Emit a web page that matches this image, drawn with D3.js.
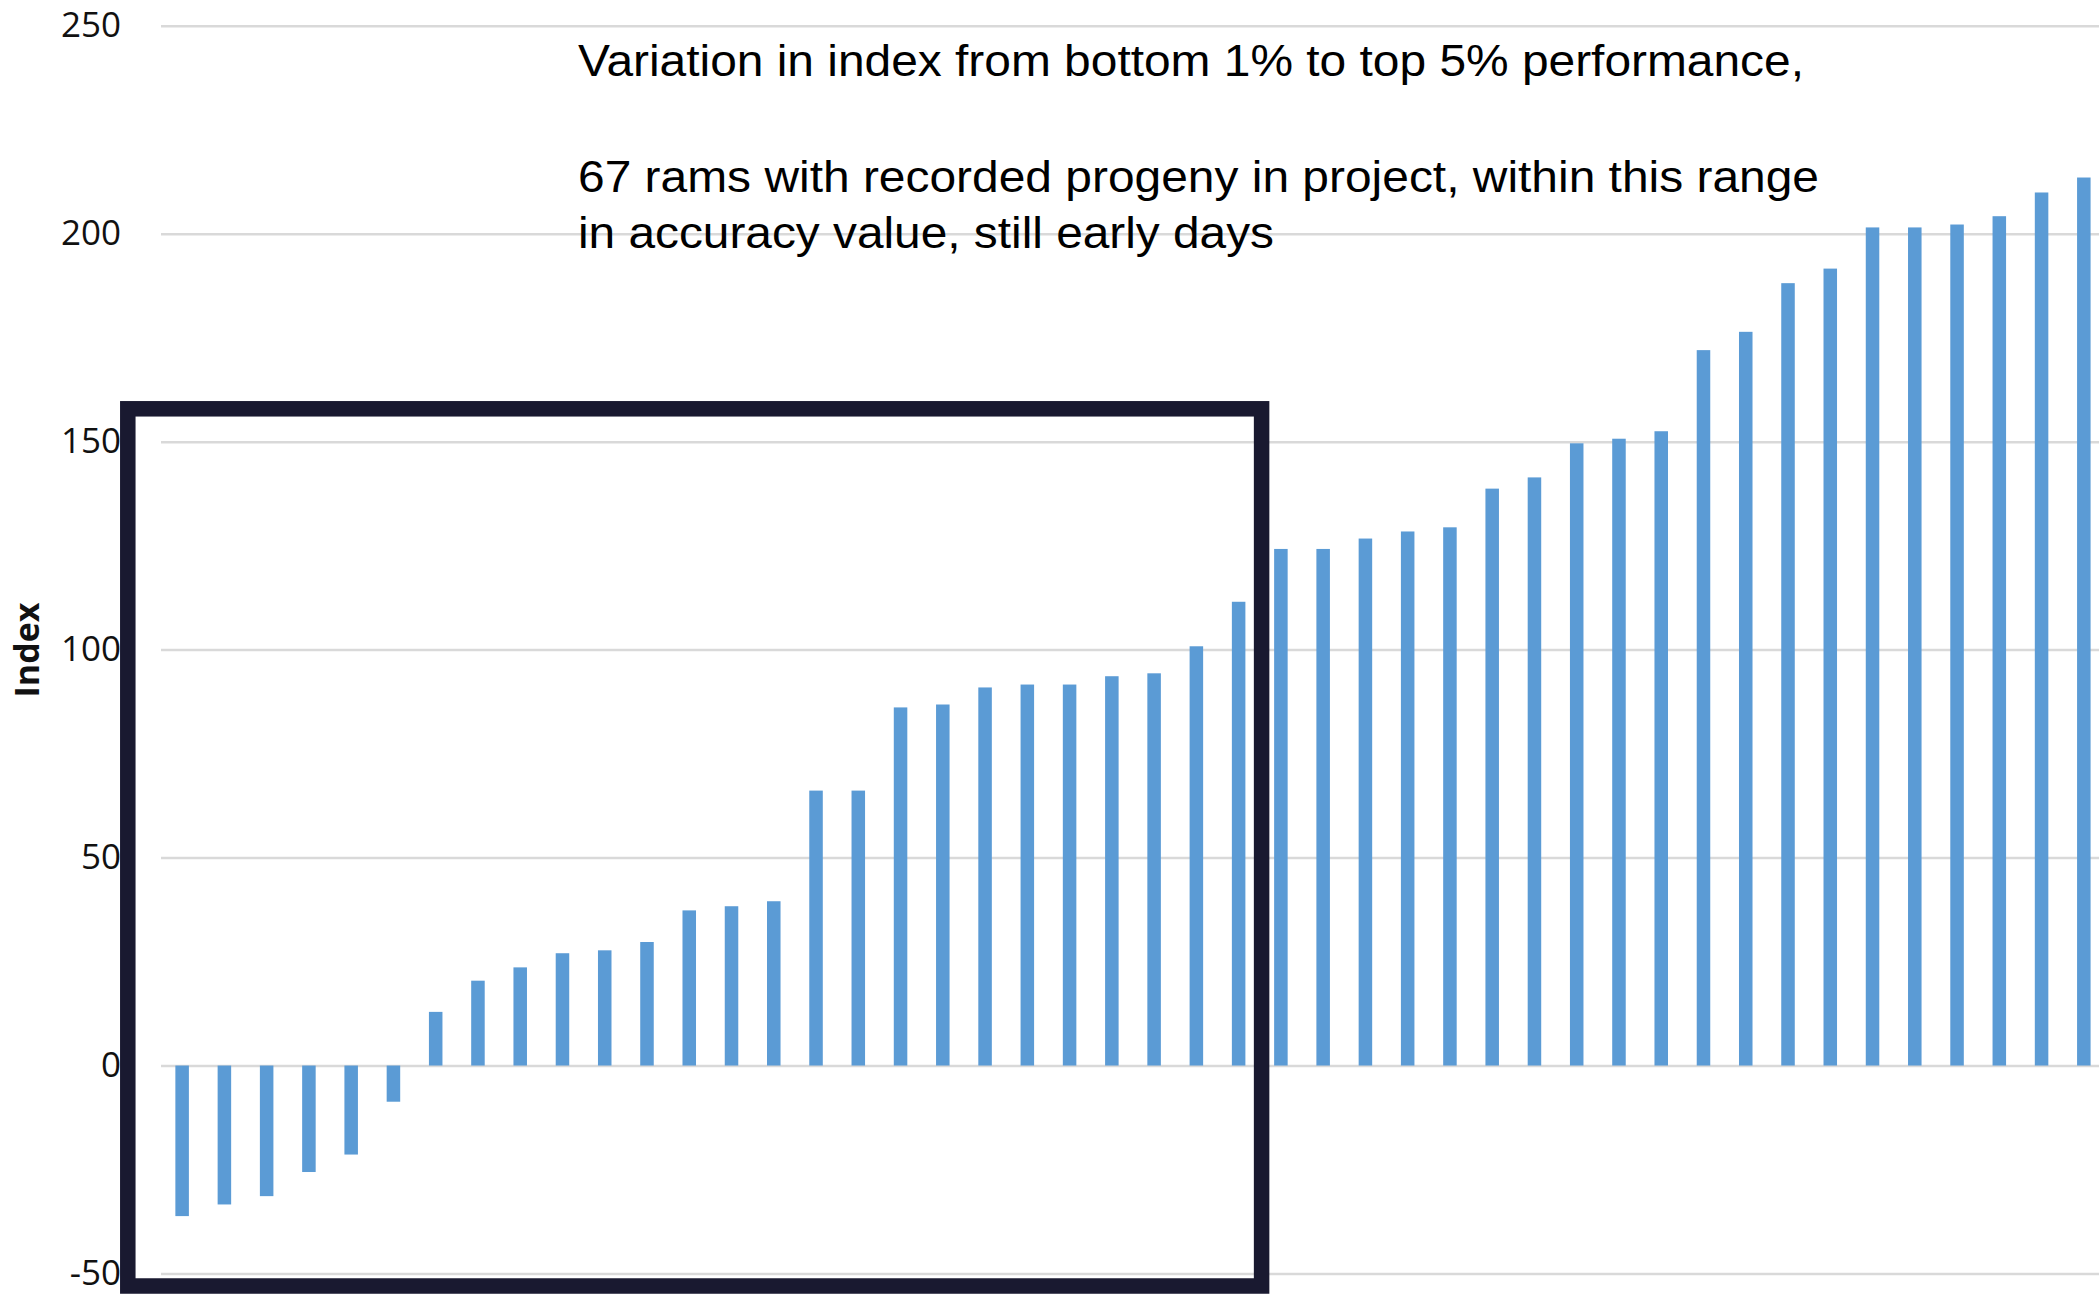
<!DOCTYPE html>
<html>
<head>
<meta charset="utf-8">
<script src="https://cdn.jsdelivr.net/npm/d3@7"></script>
<style>
  body { margin: 0; background: #fff; }
  svg { display: block; }
</style>
</head>
<body>
<div id="chart"></div>
<script>
// ram rank (sorted by index), only the part of the chart that is visible
const ramRank = [1, 2, 3, 4, 5, 6, 7, 8, 9, 10, 11, 12, 13, 14, 15, 16, 17, 18, 19, 20, 21, 22, 23,
    24, 25, 26, 27, 28, 29, 30, 31, 32, 33, 34, 35, 36, 37, 38, 39, 40, 41, 42, 43, 44, 45, 46];
const indexValue = [-36.2, -33.4, -31.4, -25.6, -21.4, -8.7, 12.9, 20.4, 23.6, 27.0, 27.7, 29.7,
    37.3, 38.3, 39.5, 66.1, 66.1, 86.1, 86.8, 90.9, 91.6, 91.6, 93.6, 94.3, 100.8, 111.5,
    124.2, 124.2, 126.7, 128.4, 129.4, 138.7, 141.4, 149.6, 150.7, 152.5, 172.0, 176.4,
    188.1, 191.6, 201.5, 201.5, 202.2, 204.2, 209.9, 213.5];
const yTicks = [-50, 0, 50, 100, 150, 200, 250];
const yTitle = "Index";
const noteLines = [
    "Variation in index from bottom 1% to top 5% performance,",
    "67 rams with recorded progeny in project, within this range",
    "in accuracy value, still early days"
];

let width = 2099;
let height = 1297;
let plotLeft = 161;
let step = 42.26;

let svg = d3.select("#chart")
    .append("svg")
    .attr("width", width)
    .attr("height", height);

// scales
let xScale = d3.scaleBand()
    .domain(ramRank)
    .range([plotLeft, plotLeft + ramRank.length * step])
    .paddingInner(0.68)
    .paddingOuter(0.34);

let yScale = d3.scaleLinear()
    .domain([-50, 250])
    .range([1273.5, 25.7]);

// gridlines
let grid = d3.axisLeft(yScale)
    .tickValues(yTicks)
    .tickSize(-(ramRank.length * step))
    .tickFormat("");

svg.append("g")
    .attr("class", "grid")
    .attr("transform", "translate(" + plotLeft + ",0)")
    .call(grid)
    .call(g => g.select(".domain").remove())
    .call(g => g.selectAll("line").attr("stroke", "#d9d9d9").attr("stroke-width", 2.5));

// y axis labels (plain hyphen for negatives, like the original)
let yAxis = d3.axisLeft(yScale)
    .tickValues(yTicks)
    .tickSize(0)
    .tickPadding(0)
    .tickFormat(d => String(d));

svg.append("g")
    .attr("class", "y axis")
    .attr("transform", "translate(121,0)")
    .call(yAxis)
    .call(g => g.select(".domain").remove())
    .call(g => g.selectAll("text")
        .attr("font-family", "'Open Sans', sans-serif")
        .attr("font-size", "35px")
        .attr("fill", "#111"));

// y title
svg.append("text")
    .attr("transform", "rotate(-90)")
    .attr("x", -650)
    .attr("y", 39)
    .attr("font-family", "'Open Sans', sans-serif")
    .attr("font-weight", "bold")
    .attr("font-size", "34px")
    .attr("fill", "#111")
    .style("text-anchor", "middle")
    .text(yTitle);

// bars
svg.append("g")
    .selectAll("rect")
    .data(ramRank)
    .join("rect")
    .attr("x", d => xScale(d))
    .attr("width", xScale.bandwidth())
    .attr("y", (d, i) => yScale(Math.max(0, indexValue[i])))
    .attr("height", (d, i) => Math.abs(yScale(indexValue[i]) - yScale(0)))
    .attr("fill", "#5b9bd5");

// note text
let noteY = [76, 191.7, 248.3];
let noteW = [1226, 1241, 696];
svg.append("g")
    .selectAll("text")
    .data(noteLines)
    .join("text")
    .attr("x", 578)
    .attr("y", (d, i) => noteY[i])
    .attr("textLength", (d, i) => noteW[i])
    .attr("lengthAdjust", "spacingAndGlyphs")
    .attr("font-family", "'Liberation Sans', Arial, sans-serif")
    .attr("font-size", "45px")
    .attr("fill", "#000")
    .text(d => d);

// highlight frame around the lower group
svg.append("rect")
    .attr("x", 127.8)
    .attr("y", 408.8)
    .attr("width", 1261.6 - 127.8)
    .attr("height", 1286 - 408.8)
    .attr("fill", "none")
    .attr("stroke", "#191930")
    .attr("stroke-width", 15.5);
</script>
</body>
</html>
